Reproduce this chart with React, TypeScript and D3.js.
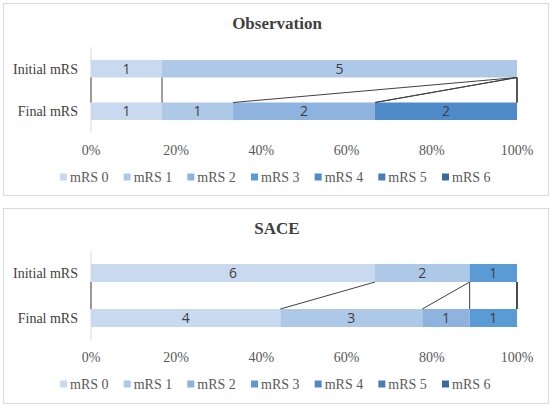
import React from "react";
import * as d3 from "d3";

const levels = ["mRS 0", "mRS 1", "mRS 2", "mRS 3", "mRS 4", "mRS 5", "mRS 6"];
const rows = ["Initial mRS", "Final mRS"];
const colors = ["#c9daf0", "#aec8e7", "#8fb3df", "#5b9bd5", "#4f8bc9", "#4a7db5", "#3b6a9e"];
const ticks = [0, 0.2, 0.4, 0.6, 0.8, 1];

// counts per mRS level
const obsInitial = [1, 5, 0, 0, 0, 0, 0];
const obsFinal = [1, 1, 2, 0, 2, 0, 0];
const saceInitial = [6, 2, 0, 1, 0, 0, 0];
const saceFinal = [4, 3, 1, 1, 0, 0, 0];

const serif = "'Liberation Serif', 'Times New Roman', serif";
const sans = "'Open Sans', 'Noto Sans', sans-serif";

type PanelProps = {
  title: string;
  initial: number[];
  final: number[];
  top: number;
  height: number;
  titleY: number;
  barTop: number;
  step: number;
  barH: number;
  tickY: number;
  legendY: number;
};

const cum = (vals: number[]) => {
  const total = d3.sum(vals);
  const out = [0];
  vals.forEach((v, i) => out.push(out[i] + v / total));
  return out;
};

const Panel = (p: PanelProps) => {
  const x = d3.scaleLinear().domain([0, 1]).range([91, 517]);
  const pad = (p.step - p.barH) / p.step;
  const y = d3
    .scaleBand()
    .domain(rows)
    .range([p.barTop - p.step * pad * 0.5, p.barTop + p.step * (2 - pad * 0.5)])
    .paddingInner(pad)
    .paddingOuter(pad / 2);
  const data = [p.initial, p.final];
  const cums = data.map(cum);
  const yi = y(rows[0])! + y.bandwidth();
  const yf = y(rows[1])!;
  const legendX = d3.scaleLinear().domain([0, 6]).range([60, 442]);

  return (
    <g>
      <rect x={3.5} y={p.top + 0.5} width={545} height={p.height} fill="#fff" stroke="#d9d9d9" />
      <text x={277} y={p.titleY} textAnchor="middle" fontFamily={serif} fontWeight="bold" fontSize={17} fill="#404040">
        {p.title}
      </text>
      <line x1={x(0)} x2={x(0)} y1={y.range()[0]} y2={y.range()[1]} stroke="#d9d9d9" />
      {rows.map((r, ri) => (
        <g key={r}>
          <text x={78} y={y(r)! + y.bandwidth() / 2} dy="0.35em" textAnchor="end" fontFamily={serif} fontSize={14} fill="#404040">
            {r}
          </text>
          {data[ri].map((v, i) =>
            v > 0 ? (
              <g key={i}>
                <rect x={x(cums[ri][i])} y={y(r)} width={x(cums[ri][i + 1]) - x(cums[ri][i])} height={y.bandwidth()} fill={colors[i]} />
                <text
                  x={(x(cums[ri][i]) + x(cums[ri][i + 1])) / 2}
                  y={y(r)! + y.bandwidth() / 2}
                  dy="0.36em"
                  textAnchor="middle"
                  fontFamily={sans}
                  fontSize={14}
                  fill="#404040"
                >
                  {v}
                </text>
              </g>
            ) : null
          )}
        </g>
      ))}
      {cums[0].map((c, k) => (
        <line key={k} x1={x(c)} y1={yi} x2={x(cums[1][k])} y2={yf} stroke={k === 0 ? "#7f7f7f" : "#404040"} strokeWidth={k === 0 ? 1.5 : 1} />
      ))}
      {ticks.map((t) => (
        <text key={t} x={x(t)} y={p.tickY} dy="0.35em" textAnchor="middle" fontFamily={serif} fontSize={14} fill="#595959">
          {d3.format(".0%")(t)}
        </text>
      ))}
      {levels.map((l, i) => (
        <g key={l}>
          <rect x={legendX(i)} y={p.legendY - 3.5} width={7} height={7} fill={colors[i]} />
          <text x={legendX(i) + 10} y={p.legendY} dy="0.35em" fontFamily={serif} fontSize={14} fill="#595959">
            {l}
          </text>
        </g>
      ))}
    </g>
  );
};

export default function App() {
  return (
    <svg width={554} height={408} style={{ position: "absolute", left: 0, top: 0 }}>
      <rect width={554} height={408} fill="#fff" />
      <Panel title="Observation" initial={obsInitial} final={obsFinal} top={3} height={192}
        titleY={29} barTop={60} step={42.5} barH={17.5} tickY={150} legendY={177} />
      <Panel title="SACE" initial={saceInitial} final={saceFinal} top={208} height={195}
        titleY={234} barTop={264} step={45} barH={18} tickY={357} legendY={384} />
    </svg>
  );
}
